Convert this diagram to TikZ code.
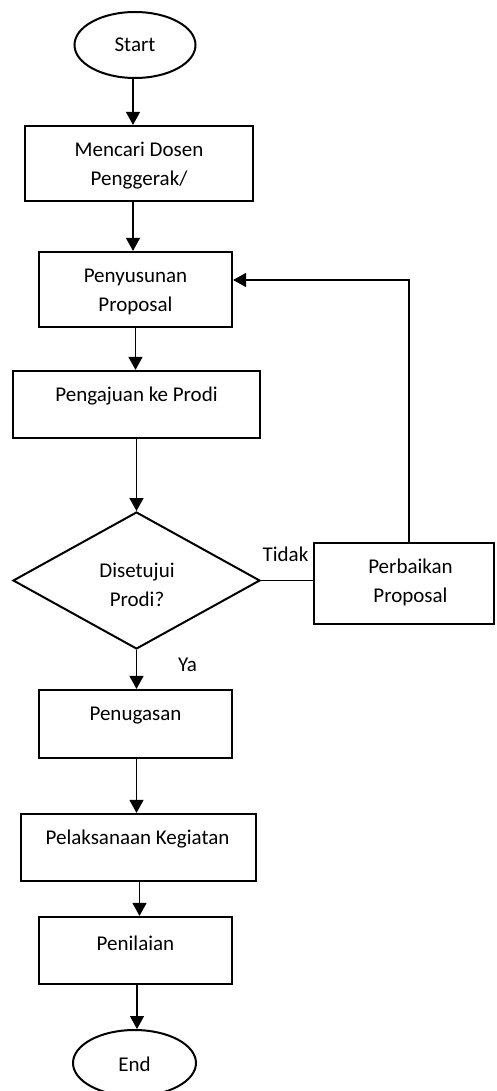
\documentclass[tikz,border=0pt]{standalone}
\usepackage{fontspec}
\setmainfont{Carlito}
\usetikzlibrary{shapes.geometric,arrows.meta}
\begin{document}
\begin{tikzpicture}[x=1pt,y=-1pt,
  box/.style={draw,line width=2.2pt,rectangle,inner sep=0pt},
  term/.style={draw,line width=2pt,ellipse,inner sep=0pt},
  txt/.style={inner sep=0pt,align=center,font=\fontsize{21}{29}\selectfont},
  arr/.style={line width=1.3pt,-{Triangle[length=13pt,width=14pt]}},
  ln/.style={line width=1.3pt}]
\useasboundingbox (0,0) rectangle (496,1091);
% shapes
\node[term,minimum width=121pt,minimum height=66pt] (start) at (135,45) {};
\node[txt] (startT) at (135,45) {Start};
\node[box,minimum width=228pt,minimum height=75pt] (mencari) at (139,163.5) {};
\node[txt] (mencariT) at (139,166) {Mencari Dosen\\Penggerak/};
\node[box,minimum width=193pt,minimum height=75pt] (penyusunan) at (135.5,289.5) {};
\node[txt] (penyusunanT) at (135.5,291.5) {Penyusunan\\Proposal};
\node[box,minimum width=247pt,minimum height=67pt] (pengajuan) at (136.5,404.5) {};
\node[txt] (pengajuanT) at (136.5,396) {Pengajuan ke Prodi};
\node[draw,line width=2pt,diamond,inner sep=0pt,minimum width=247pt,minimum height=137pt] (dia) at (136.5,580.5) {};
\node[txt] (diaT) at (137,585) {Disetujui\\Prodi?};
\node[box,line width=1.8pt,minimum width=180pt,minimum height=81pt] (perbaikan) at (404,583.5) {};
\node[txt] (perbaikanT) at (410.5,582.5) {Perbaikan\\Proposal};
\node[box,minimum width=193pt,minimum height=68pt] (penugasan) at (135.5,724) {};
\node[txt] (penugasanT) at (135.5,716) {Penugasan};
\node[box,minimum width=235pt,minimum height=67pt] (pelaksanaan) at (138.5,847.5) {};
\node[txt] (pelaksanaanT) at (137.5,839) {Pelaksanaan Kegiatan};
\node[box,minimum width=193pt,minimum height=67pt] (penilaian) at (135.5,950.5) {};
\node[txt] (penilaianT) at (135.5,943) {Penilaian};
\node[term,minimum width=123pt,minimum height=66pt] (end) at (134.5,1063) {};
\node[txt] (endT) at (134.5,1064) {End};
% labels
\node[txt] (tidak) at (285.5,554) {Tidak};
\node[txt] (ya) at (187.5,665) {Ya};
% connectors
\draw[arr] ([xshift=-2pt]start.south) -- ([xshift=-2pt]start.south |- mencari.north);
\draw[arr] ([xshift=-6pt]mencari.south) -- ([xshift=-6pt]mencari.south |- penyusunan.north);
\draw[arr] (penyusunan.south) -- (penyusunan.south |- pengajuan.north);
\draw[arr] (pengajuan.south) -- (dia.north);
\draw[ln] (dia.east) -- (dia.east -| perbaikan.west);
\coordinate (fbTop) at (409,280);
\draw[arr] ([xshift=5pt]perbaikan.north) -- (fbTop) -- (fbTop -| penyusunan.east);
\draw[arr] (dia.south) -- (dia.south |- penugasan.north);
\draw[arr] ([xshift=1pt]penugasan.south) -- ([xshift=1pt]penugasan.south |- pelaksanaan.north);
\draw[arr] ([xshift=1pt]pelaksanaan.south) -- ([xshift=1pt]pelaksanaan.south |- penilaian.north);
\draw[arr] ([xshift=1.5pt]penilaian.south) -- ([xshift=1.5pt]penilaian.south |- end.north);
\end{tikzpicture}
\end{document}
